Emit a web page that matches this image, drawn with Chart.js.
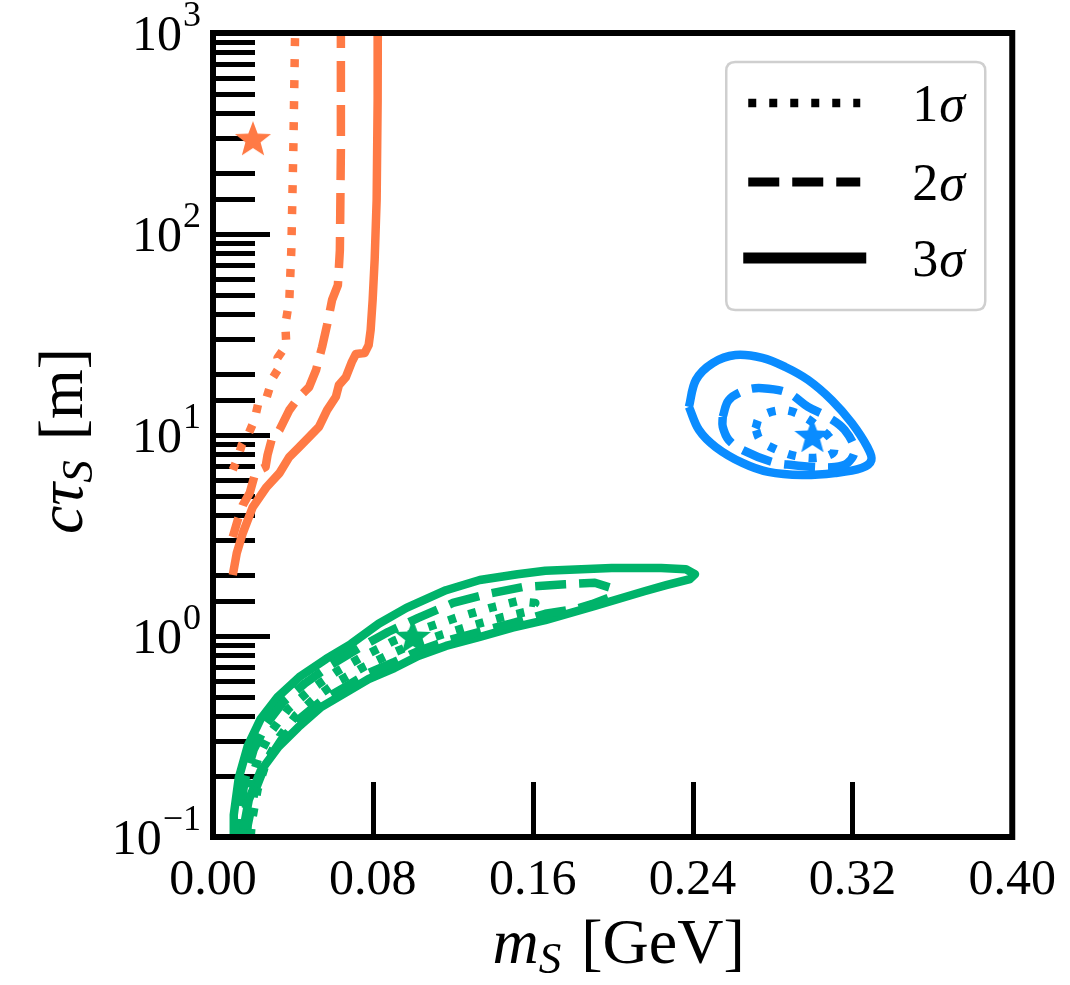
<!DOCTYPE html>
<html><head><meta charset="utf-8">
<script src="https://cdn.jsdelivr.net/npm/chart.js@4.4.1/dist/chart.umd.min.js"></script>
<style>html,body{margin:0;padding:0;background:#fff}</style>
</head><body>
<canvas id="c" width="1070" height="985"></canvas>
<script>
// ---------- data (x: m_S in GeV, y: c tau_S in m) ----------
const xTicks = [0, 0.08, 0.16, 0.24, 0.32, 0.40];
const xTickLabels = ['0.00', '0.08', '0.16', '0.24', '0.32', '0.40'];
const yMajorTicks = [0.1, 1, 10, 100, 1000];
const yTickExponents = ['\u22121', '0', '1', '2', '3'];
const legendLabels = ['1', '2', '3']; // followed by sigma

// orange (open curves)
const orange1 = [[0.0412,1200],[0.0402,262],[0.0392,83.2],[0.0382,47.0],[0.0362,35.3],[0.0367,28.0],[0.0323,24.2],[0.0333,21.8],[0.0298,19.2],[0.0268,15.3],[0.0228,14.6],[0.0208,11.9],[0.0179,10.2],[0.0144,8.92],[0.0124,7.69],[0.0099,6.70]];
const orange2 = [[0.0640,1200],[0.0640,262],[0.0635,83.2],[0.0625,55.7],[0.0596,47.0],[0.0571,35.3],[0.0546,27.4],[0.0516,21.1],[0.0481,17.3],[0.0432,15.5],[0.0382,13.3],[0.0333,10.6],[0.0293,9.45],[0.0273,7.95],[0.0263,6.93],[0.0213,6.55],[0.0184,5.15],[0.0149,4.48],[0.0124,3.78],[0.0099,3.11]];
const orange3 = [[0.0825,1200],[0.0824,1000],[0.0824,464],[0.0819,148],[0.0809,74.3],[0.0799,47.0],[0.0789,33.3],[0.0779,28.0],[0.0759,25.6],[0.0715,25.3],[0.0695,23.1],[0.0665,19.4],[0.0630,17.7],[0.0615,15.5],[0.0571,13.3],[0.0531,11.0],[0.0481,9.77],[0.0432,8.71],[0.0382,7.78],[0.0333,6.47],[0.0268,5.51],[0.0199,4.38],[0.0149,3.25],[0.0119,2.59],[0.0099,2.01]];

// green (closed, cut by lower axis)
const green3 = [[0.0104,0.0861],[0.0104,0.129],[0.0129,0.197],[0.0174,0.284],[0.0238,0.386],[0.0323,0.497],[0.0432,0.625],[0.0566,0.769],[0.0690,0.912],[0.0829,1.15],[0.0968,1.38],[0.1166,1.69],[0.1335,1.90],[0.1524,2.03],[0.1663,2.11],[0.1995,2.18],[0.2243,2.18],[0.2367,2.15],[0.2412,2.03],[0.2387,1.92],[0.2268,1.79],[0.2159,1.67],[0.1911,1.41],[0.1663,1.20],[0.1499,1.10],[0.1335,0.989],[0.1166,0.892],[0.1027,0.795],[0.0908,0.693],[0.0779,0.611],[0.0660,0.520],[0.0541,0.443],[0.0427,0.352],[0.0328,0.281],[0.0238,0.213],[0.0179,0.153],[0.0149,0.105],[0.0139,0.0861]];
const green2 = [[0.0124,0.0861],[0.0134,0.129],[0.0159,0.192],[0.0203,0.271],[0.0268,0.365],[0.0352,0.470],[0.0462,0.583],[0.0591,0.718],[0.0730,0.871],[0.0878,1.05],[0.1027,1.23],[0.1201,1.46],[0.1375,1.62],[0.1548,1.75],[0.1762,1.81],[0.1911,1.84],[0.1995,1.73],[0.1980,1.55],[0.1896,1.44],[0.1811,1.36],[0.1663,1.29],[0.1499,1.16],[0.1335,1.05],[0.1166,0.944],[0.1027,0.842],[0.0908,0.743],[0.0779,0.654],[0.0660,0.557],[0.0541,0.475],[0.0432,0.386],[0.0342,0.304],[0.0263,0.231],[0.0208,0.167],[0.0174,0.115],[0.0164,0.0861]];
const green1 = [[0.0149,0.0861],[0.0159,0.129],[0.0184,0.182],[0.0228,0.250],[0.0293,0.337],[0.0377,0.434],[0.0486,0.539],[0.0615,0.662],[0.0754,0.795],[0.0903,0.944],[0.1067,1.10],[0.1226,1.24],[0.1400,1.39],[0.1524,1.49],[0.1613,1.46],[0.1583,1.33],[0.1449,1.24],[0.1300,1.13],[0.1151,1.02],[0.1002,0.912],[0.0878,0.804],[0.0754,0.701],[0.0630,0.597],[0.0516,0.497],[0.0417,0.405],[0.0333,0.315],[0.0268,0.239],[0.0223,0.172],[0.0194,0.119],[0.0184,0.0861]];

// blue (closed)
const blue3 = [[0.2382,13.8],[0.2417,18.8],[0.2501,22.8],[0.2615,25.0],[0.2749,24.2],[0.2864,21.8],[0.2978,18.8],[0.3097,14.9],[0.3196,11.5],[0.3275,8.71],[0.3295,7.51],[0.3246,6.85],[0.3112,6.47],[0.2948,6.32],[0.2779,6.55],[0.2650,7.26],[0.2516,8.71],[0.2432,10.6],[0.2382,13.8]];
const blue2 = [[0.2551,12.3],[0.2581,14.9],[0.2665,16.7],[0.2749,17.1],[0.2878,16.2],[0.2978,13.8],[0.3077,12.3],[0.3161,10.6],[0.3211,8.42],[0.3176,7.26],[0.3112,6.93],[0.3012,6.93],[0.2898,7.09],[0.2799,7.34],[0.2650,8.42],[0.2581,9.44],[0.2551,11.0],[0.2551,12.3]];
const blue1 = [[0.2715,10.8],[0.2739,12.3],[0.2849,13.3],[0.2953,12.4],[0.3037,10.8],[0.3102,9.23],[0.3102,8.13],[0.3012,7.69],[0.2913,7.87],[0.2814,8.51],[0.2739,9.44],[0.2715,10.8]];

// best-fit points (stars)
const bestFitOrange = [[0.02, 300]];
const bestFitGreen = [[0.10, 1.0]];
const bestFitBlue = [[0.30, 10]];

// ---------- styles ----------
const C_ORANGE = '#ff7a45', C_GREEN = '#00b36a', C_BLUE = '#0a8cff';
const DOTTED = [8, 13], DASHED = [31, 13];
const LW = 8.5;
const SERIF = '"Liberation Serif", "DejaVu Serif", serif';

function toXY(arr) { return arr.map(p => ({x: p[0], y: p[1]})); }
function contour(arr, color, dash, label, tension) {
  return {
    label, data: toXY(arr), showLine: true, borderColor: color, backgroundColor: color,
    borderWidth: LW, borderDash: dash, borderCapStyle: 'butt', borderJoinStyle: 'round',
    pointRadius: 0, pointHoverRadius: 0, fill: false, tension: tension || 0, clip: 0, order: 5
  };
}
function makeStar(color, r) {
  const c = document.createElement('canvas');
  c.width = c.height = 2 * r + 2;
  const g = c.getContext('2d');
  g.fillStyle = color;
  g.beginPath();
  for (let i = 0; i < 10; i++) {
    const a = -Math.PI / 2 + i * Math.PI / 5;
    const rr = i % 2 ? r * 0.42 : r;
    g.lineTo(r + 1 + rr * Math.cos(a), r + 1 + rr * Math.sin(a) + r * 0.1);
  }
  g.closePath(); g.fill();
  return c;
}
function star(arr, color, label) {
  return {
    label, data: toXY(arr), showLine: false, pointStyle: makeStar(color, 19),
    pointRadius: 19, backgroundColor: color, borderColor: color, clip: 0, order: 1
  };
}

// ---------- plugins ----------
const decorPlugin = {
  id: 'decor',
  beforeDraw(chart) {
    const ctx = chart.ctx;
    ctx.save(); ctx.fillStyle = '#fff'; ctx.fillRect(0, 0, chart.width, chart.height); ctx.restore();
  },
  beforeDatasetsDraw(chart) {
    const {ctx, chartArea: a, scales: {x, y}} = chart;
    ctx.save();
    ctx.strokeStyle = '#000'; ctx.lineWidth = 5; ctx.lineCap = 'butt';
    // y ticks inside (major longer)
    y.ticks.forEach(t => {
      const py = Math.round(y.getPixelForValue(t.value)) + 0.5;
      const lg = Math.log10(t.value);
      const major = Math.abs(lg - Math.round(lg)) < 1e-6;
      const len = major ? 57 : 42;
      ctx.beginPath(); ctx.moveTo(a.left, py); ctx.lineTo(a.left + len, py); ctx.stroke();
    });
    // x ticks inside
    xTicks.forEach(v => {
      if (v <= x.min || v >= x.max) return;
      const px = Math.round(x.getPixelForValue(v)) + 0.5;
      ctx.beginPath(); ctx.moveTo(px, a.bottom); ctx.lineTo(px, a.bottom - 55); ctx.stroke();
    });
    ctx.restore();
  },
  afterDatasetsDraw(chart) {
    const {ctx, chartArea: a, scales: {x, y}} = chart;
    ctx.save();
    // frame
    ctx.strokeStyle = '#000'; ctx.lineWidth = 6;
    ctx.strokeRect(a.left, a.top, a.right - a.left, a.bottom - a.top);

    // y tick labels 10^n
    ctx.fillStyle = '#000'; ctx.textBaseline = 'alphabetic';
    yMajorTicks.forEach((v, i) => {
      const py = y.getPixelForValue(v);
      ctx.font = '50px ' + SERIF;
      const w10 = ctx.measureText('10').width;
      ctx.font = '36px ' + SERIF;
      const we = ctx.measureText(yTickExponents[i]).width;
      const right = a.left - 12;
      ctx.font = '50px ' + SERIF;
      ctx.textAlign = 'left';
      ctx.fillText('10', right - we - w10 - 1, py + 17);
      ctx.font = '36px ' + SERIF;
      ctx.fillText(yTickExponents[i], right - we, py - 7);
    });

    // x axis title: m_S [GeV]
    const cx = (a.left + a.right) / 2 + 6;
    const ty = 963;
    ctx.font = 'italic 64px ' + SERIF;
    const wm = ctx.measureText('m').width;
    ctx.font = 'italic 45px ' + SERIF;
    const ws = ctx.measureText('S').width;
    ctx.font = '64px ' + SERIF;
    const wg = ctx.measureText(' [GeV]').width;
    let sx = cx - (wm + ws + 4 + wg) / 2;
    ctx.textAlign = 'left';
    ctx.font = 'italic 64px ' + SERIF; ctx.fillText('m', sx, ty); sx += wm;
    ctx.font = 'italic 45px ' + SERIF; ctx.fillText('S', sx, ty + 10); sx += ws + 4;
    ctx.font = '64px ' + SERIF; ctx.fillText(' [GeV]', sx, ty);

    // y axis title: c tau_S [m]
    ctx.save();
    ctx.translate(82, (a.top + a.bottom) / 2 + 6);
    ctx.rotate(-Math.PI / 2);
    ctx.font = 'italic 64px ' + SERIF;
    const wc = ctx.measureText('c\u03c4').width;
    ctx.font = 'italic 45px ' + SERIF;
    const ws2 = ctx.measureText('S').width;
    ctx.font = '64px ' + SERIF;
    const wmm = ctx.measureText(' [m]').width;
    let yx = -(wc + ws2 + 4 + wmm) / 2;
    ctx.font = 'italic 64px ' + SERIF; ctx.fillText('c\u03c4', yx, 0); yx += wc;
    ctx.font = 'italic 45px ' + SERIF; ctx.fillText('S', yx, 10); yx += ws2 + 4;
    ctx.font = '64px ' + SERIF; ctx.fillText(' [m]', yx, 0);
    ctx.restore();

    // legend
    const bx = a.right - 286, by = a.top + 29, bw = 259, bh = 248, r = 9;
    ctx.beginPath();
    ctx.moveTo(bx + r, by); ctx.lineTo(bx + bw - r, by); ctx.quadraticCurveTo(bx + bw, by, bx + bw, by + r);
    ctx.lineTo(bx + bw, by + bh - r); ctx.quadraticCurveTo(bx + bw, by + bh, bx + bw - r, by + bh);
    ctx.lineTo(bx + r, by + bh); ctx.quadraticCurveTo(bx, by + bh, bx, by + bh - r);
    ctx.lineTo(bx, by + r); ctx.quadraticCurveTo(bx, by, bx + r, by); ctx.closePath();
    ctx.fillStyle = 'rgba(255,255,255,0.8)'; ctx.fill();
    ctx.strokeStyle = '#cfcfcf'; ctx.lineWidth = 2.5; ctx.stroke();
    const rows = [{dash: DOTTED, dy: 41, lw: 8.5, x0: 22, x1: 134},
                  {dash: DASHED, dy: 120, lw: 9, x0: 22, x1: 134},
                  {dash: [], dy: 196, lw: 11, x0: 17, x1: 140}];
    rows.forEach((row, i) => {
      ctx.save();
      ctx.strokeStyle = '#000'; ctx.lineWidth = row.lw; ctx.lineCap = 'butt';
      ctx.setLineDash(row.dash);
      ctx.beginPath(); ctx.moveTo(bx + row.x0, by + row.dy); ctx.lineTo(bx + row.x1, by + row.dy); ctx.stroke();
      ctx.restore();
      ctx.fillStyle = '#000'; ctx.textAlign = 'left';
      ctx.font = '52px ' + SERIF;
      const w1 = ctx.measureText(legendLabels[i]).width;
      ctx.fillText(legendLabels[i], bx + 186, by + row.dy + 18);
      ctx.font = 'italic 52px ' + SERIF;
      ctx.fillText('\u03c3', bx + 186 + w1 + 1, by + row.dy + 18);
    });
    ctx.restore();
  }
};

new Chart(document.getElementById('c'), {
  type: 'scatter',
  data: {
    datasets: [
      contour(orange1, C_ORANGE, DOTTED, 'orange 1\u03c3'),
      contour(orange2, C_ORANGE, DASHED, 'orange 2\u03c3'),
      contour(orange3, C_ORANGE, [], 'orange 3\u03c3'),
      contour(green1, C_GREEN, DOTTED, 'green 1\u03c3'),
      contour(green2, C_GREEN, DASHED, 'green 2\u03c3'),
      contour(green3, C_GREEN, [], 'green 3\u03c3'),
      contour(blue1, C_BLUE, DOTTED, 'blue 1\u03c3', 0.35),
      contour(blue2, C_BLUE, DASHED, 'blue 2\u03c3', 0.35),
      contour(blue3, C_BLUE, [], 'blue 3\u03c3', 0.35),
      star(bestFitOrange, C_ORANGE, 'orange best fit'),
      star(bestFitGreen, C_GREEN, 'green best fit'),
      star(bestFitBlue, C_BLUE, 'blue best fit')
    ]
  },
  options: {
    responsive: false, animation: false, devicePixelRatio: 1,
    layout: {padding: {left: 0, top: 33, right: 51, bottom: 0}},
    plugins: {legend: {display: false}, tooltip: {enabled: false}},
    scales: {
      x: {
        type: 'linear', min: 0, max: 0.4,
        afterBuildTicks: s => { s.ticks = xTicks.map(v => ({value: v})); },
        afterFit: s => { s.height = 148; },
        ticks: {
          autoSkip: false, maxRotation: 0, padding: 14, color: '#000',
          font: {family: SERIF, size: 50},
          callback: (v, i) => xTickLabels[i]
        },
        grid: {display: false, drawTicks: false},
        border: {display: false}
      },
      y: {
        type: 'logarithmic', min: 0.1, max: 1000,
        afterFit: s => { s.width = 213; },
        ticks: {display: false, autoSkip: false},
        grid: {display: false, drawTicks: false},
        border: {display: false}
      }
    }
  },
  plugins: [decorPlugin]
});
</script>
</body></html>
